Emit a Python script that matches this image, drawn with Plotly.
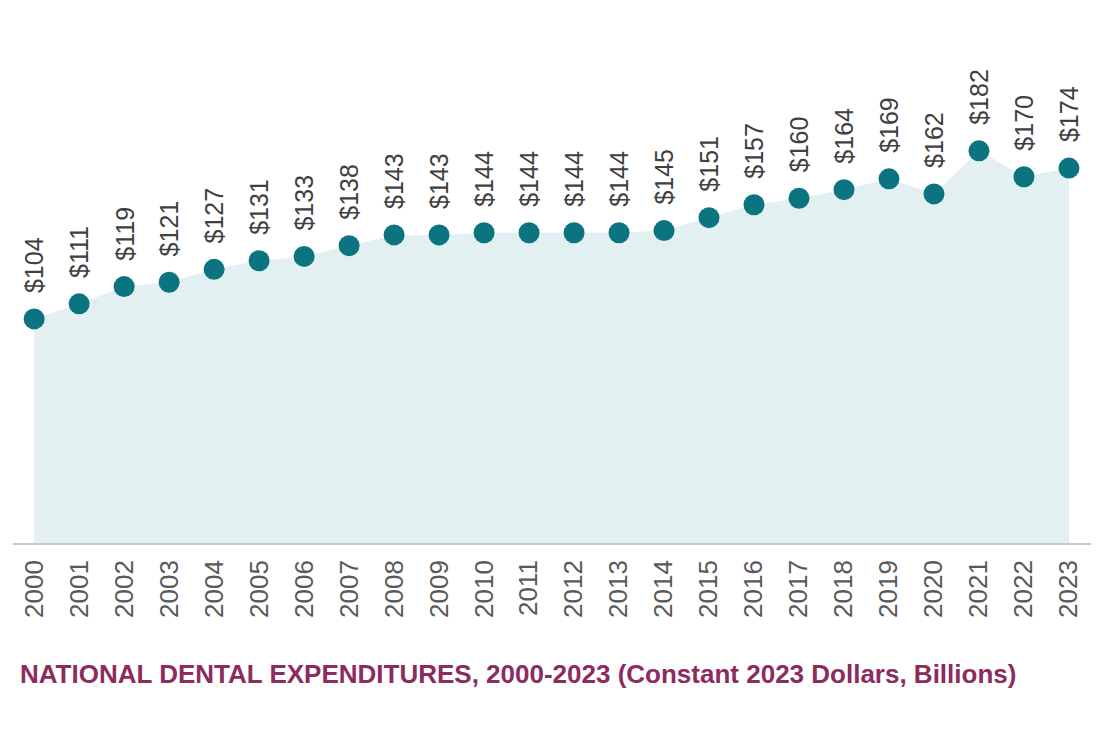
import plotly.graph_objects as go

years = [str(y) for y in range(2000, 2024)]
values = [104, 111, 119, 121, 127, 131, 133, 138, 143, 143, 144, 144,
          144, 144, 145, 151, 157, 160, 164, 169, 162, 182, 170, 174]
labels = ["$" + str(v) for v in values]
title_text = "NATIONAL DENTAL EXPENDITURES, 2000-2023 (Constant 2023 Dollars, Billions)"

fig = go.Figure()
fig.add_trace(go.Scatter(
    x=years, y=values, mode="lines", fill="tozeroy",
    line=dict(width=0, color="#E2F0F2"), fillcolor="#E2F0F2",
    hoverinfo="skip", showlegend=False))
fig.add_trace(go.Scatter(
    x=years, y=values, mode="markers",
    marker=dict(size=21, color="#0B7480"),
    cliponaxis=False, showlegend=False))

for i, (v, lab) in enumerate(zip(values, labels)):
    fig.add_annotation(x=i, y=v, text=lab, textangle=-90, showarrow=False,
                       xanchor="center", yanchor="bottom", yshift=24,
                       font=dict(family="Liberation Sans, Arial", size=25, color="#404040"))

fig.update_layout(
    width=1100, height=733,
    margin=dict(l=5, r=17, t=0, b=198),
    plot_bgcolor="white", paper_bgcolor="white",
    title=dict(text=title_text, xref="container", yref="container",
               x=12/1100, xanchor="left", y=1-666/733, yanchor="middle",
               font=dict(family="Liberation Sans, Arial", size=26, color="#8C2C5E", weight="bold")),
    xaxis=dict(type="category", range=[-0.47, 23.49], showgrid=False,
               showline=True, linecolor="#C8C8C8", linewidth=1.5,
               tickangle=-90, ticks="", ticklabelstandoff=5,
               tickfont=dict(family="Liberation Sans, Arial", size=26, color="#595959")),
    yaxis=dict(range=[0, 248.3], visible=False, showgrid=False, zeroline=False),
)

fig.write_html("out.html")
